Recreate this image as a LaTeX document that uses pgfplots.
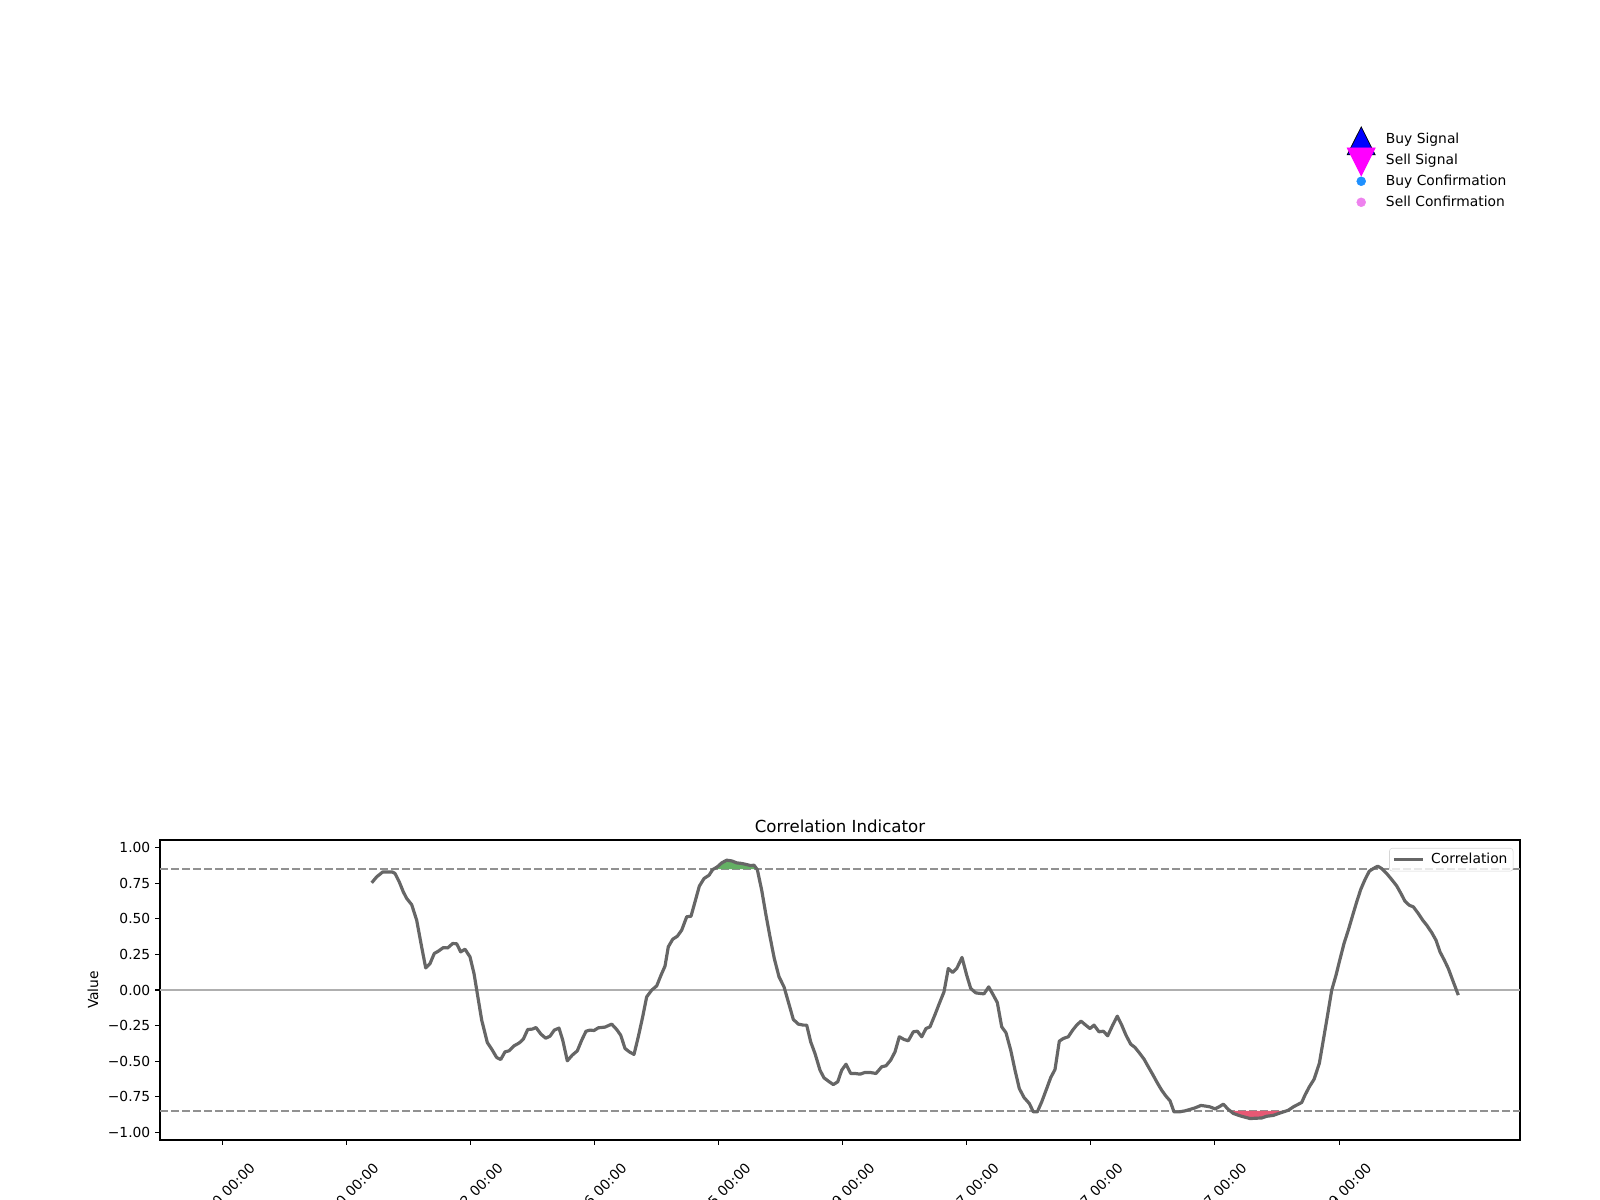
\documentclass[border=0pt]{standalone}
\usepackage{fontspec}
\setmainfont{DejaVu Sans}
\usepackage{pgfplots}
\pgfplotsset{compat=1.18}
\definecolor{corr}{RGB}{102,102,102}
\definecolor{thr}{RGB}{145,145,145}
\definecolor{zer}{RGB}{175,175,175}
\definecolor{posfill}{RGB}{100,176,100}
\definecolor{negfill}{RGB}{231,88,116}
\definecolor{buyc}{RGB}{30,144,255}
\definecolor{sellc}{RGB}{238,130,238}
\definecolor{sigblue}{RGB}{0,0,255}
\definecolor{sigmag}{RGB}{255,0,255}
\definecolor{legframe}{RGB}{214,214,214}
\pgfplotstableread{
x y
371.7 0.754
376.7 0.796
382.7 0.830
392.3 0.830
395.0 0.820
399.3 0.760
403.3 0.690
406.7 0.644
411.7 0.600
416.7 0.490
421.0 0.327
425.7 0.155
430.0 0.186
434.3 0.257
438.3 0.273
443.3 0.298
447.7 0.296
452.7 0.327
456.7 0.325
460.7 0.268
465.0 0.287
470.0 0.233
474.0 0.116
477.3 -0.025
481.7 -0.212
487.3 -0.369
491.7 -0.416
496.7 -0.475
500.7 -0.489
505.0 -0.435
509.0 -0.428
514.0 -0.393
519.3 -0.372
523.3 -0.346
527.7 -0.278
532.3 -0.275
536.0 -0.264
541.0 -0.311
545.7 -0.339
550.0 -0.325
554.3 -0.282
559.0 -0.268
562.7 -0.352
567.3 -0.498
572.3 -0.458
577.3 -0.428
581.7 -0.353
586.0 -0.290
590.0 -0.282
594.0 -0.285
598.3 -0.266
605.0 -0.261
611.7 -0.240
616.7 -0.278
620.7 -0.318
625.0 -0.411
629.3 -0.435
634.0 -0.453
638.3 -0.329
642.7 -0.188
646.7 -0.048
651.7 -0.001
656.7 0.029
661.0 0.104
665.0 0.168
668.3 0.304
672.7 0.357
677.3 0.378
681.7 0.421
686.7 0.515
691.0 0.519
695.0 0.620
699.3 0.730
704.0 0.784
709.0 0.807
712.7 0.847
717.3 0.866
721.7 0.894
726.7 0.913
731.7 0.908
736.7 0.894
741.7 0.890
746.7 0.882
750.7 0.875
754.0 0.878
757.3 0.847
761.7 0.702
766.0 0.526
770.0 0.374
774.3 0.221
779.0 0.093
784.0 0.022
788.3 -0.083
793.3 -0.207
798.3 -0.240
803.3 -0.247
806.7 -0.247
810.7 -0.365
815.0 -0.447
820.0 -0.564
824.0 -0.618
829.3 -0.646
833.3 -0.665
837.7 -0.646
841.7 -0.564
846.0 -0.522
850.7 -0.587
855.0 -0.587
860.0 -0.592
865.0 -0.580
870.0 -0.580
876.0 -0.587
881.7 -0.540
886.0 -0.533
890.7 -0.493
895.0 -0.435
899.3 -0.329
904.0 -0.348
908.3 -0.357
913.3 -0.294
917.3 -0.290
921.7 -0.329
926.0 -0.271
930.0 -0.259
935.0 -0.173
939.3 -0.095
944.0 -0.013
948.3 0.151
952.7 0.123
956.7 0.151
962.0 0.229
966.7 0.104
970.7 0.011
975.7 -0.020
980.0 -0.024
984.0 -0.027
988.7 0.022
993.3 -0.036
997.3 -0.088
1001.7 -0.259
1006.0 -0.301
1010.7 -0.423
1015.0 -0.564
1019.3 -0.693
1024.0 -0.756
1029.3 -0.798
1033.3 -0.857
1037.3 -0.857
1041.7 -0.787
1046.7 -0.693
1050.7 -0.616
1055.0 -0.559
1059.3 -0.360
1063.3 -0.341
1068.3 -0.329
1072.7 -0.282
1076.7 -0.247
1081.0 -0.219
1085.7 -0.247
1090.0 -0.271
1094.0 -0.247
1099.0 -0.294
1103.3 -0.290
1107.7 -0.322
1112.7 -0.247
1117.3 -0.184
1121.7 -0.247
1126.0 -0.318
1130.7 -0.381
1135.0 -0.404
1139.3 -0.442
1144.0 -0.486
1148.3 -0.540
1152.7 -0.594
1157.3 -0.653
1161.7 -0.705
1166.0 -0.747
1170.0 -0.779
1174.0 -0.857
1179.3 -0.857
1185.0 -0.850
1190.0 -0.840
1195.0 -0.829
1201.0 -0.812
1206.0 -0.817
1210.0 -0.822
1215.0 -0.836
1219.0 -0.822
1223.3 -0.803
1228.3 -0.840
1233.3 -0.868
1240.0 -0.885
1250.0 -0.904
1261.7 -0.900
1266.7 -0.888
1273.3 -0.882
1280.0 -0.865
1288.3 -0.846
1293.3 -0.822
1301.7 -0.791
1305.0 -0.739
1309.3 -0.681
1314.0 -0.629
1319.3 -0.517
1323.3 -0.353
1327.3 -0.188
1331.7 -0.001
1336.0 0.104
1339.3 0.198
1344.0 0.327
1348.3 0.421
1352.7 0.526
1356.7 0.620
1360.7 0.707
1365.0 0.777
1369.3 0.836
1373.3 0.854
1377.7 0.871
1381.7 0.854
1386.7 0.819
1391.7 0.777
1396.7 0.732
1401.0 0.678
1405.0 0.624
1409.3 0.596
1413.3 0.585
1418.3 0.538
1422.7 0.491
1426.7 0.456
1431.7 0.404
1436.0 0.350
1440.0 0.268
1444.3 0.210
1448.3 0.151
1453.3 0.057
1458.3 -0.036
}\corrdata
\begin{document}
\begin{tikzpicture}
% upper (hidden) panel carrying the signal legend
\begin{axis}[
  at={(1.6in,4.2in)}, anchor=south west,
  scale only axis, width=13.6in, height=6.36in,
  hide axis, xmin=0, xmax=1, ymin=0, ymax=1,
  legend cell align=left,
  legend image code/.code={\pgfpathrectangle{\pgfpoint{0cm}{-1pt}}{\pgfpoint{0.706cm}{2pt}}\pgfusepath{discard}%
    \draw[#1, overlay] plot coordinates {(0.353cm,0cm)};},
  legend style={at={(axis description cs:0.8728,1.0182)}, anchor=north west,
    draw=none, fill=none, inner sep=0pt, row sep=5.68pt,
    font=\fontsize{10}{12}\selectfont,
    nodes={inner sep=0pt, text height=7.5pt, text depth=2pt},
    /tikz/every odd column/.append style={column sep=7.85pt}},
]
\addlegendimage{only marks, mark=triangle*, mark size=11.7pt, mark options={fill=sigblue, draw=black, line width=0.5pt, yshift=-4.5pt, yscale=1.15}}
\addlegendimage{only marks, mark=triangle*, mark size=11.7pt, mark options={fill=sigmag, draw=sigmag, line width=0.5pt, yshift=2.2pt, rotate=180, yscale=1.15}}
\addlegendimage{only marks, mark=*, mark size=3.2pt, mark options={fill=buyc, draw=buyc}}
\addlegendimage{only marks, mark=*, mark size=3.2pt, mark options={fill=sellc, draw=sellc}}
\legend{Buy Signal, Sell Signal, Buy Confirmation, Sell Confirmation}
\end{axis}
% correlation panel
\begin{axis}[
  at={(1.6in,0.6in)}, anchor=south west,
  scale only axis, width=13.6in, height=3in,
  xmin=160, xmax=1520, ymin=-1.055, ymax=1.055,
  axis line style={line width=0.8pt},
  tick align=outside, tick pos=left,
  major tick length=3.5pt,
  every tick/.style={black, line width=0.8pt},
  xtick={222.6,346.4,470.5,594.3,718.4,842.4,966.6,1090.7,1214.3,1339.2},
  xticklabels={2023-05-10 00:00, 2023-06-20 00:00, 2023-07-12 00:00, 2023-08-26 00:00, 2023-09-15 00:00, 2023-10-09 00:00, 2023-11-17 00:00, 2023-12-27 00:00, 2024-01-17 00:00, 2024-02-09 00:00},
  xticklabel style={xshift=0.26in, yshift=-0.105in, rotate=45, anchor=north east},
  ytick={-1,-0.75,-0.5,-0.25,0,0.25,0.5,0.75,1},
  yticklabels={−1.00,−0.75,−0.50,−0.25,0.00,0.25,0.50,0.75,1.00},
  tick label style={font=\fontsize{10}{12}\selectfont},
  ylabel={Value},
  label style={font=\fontsize{10}{12}\selectfont},
  title={Correlation Indicator},
  title style={font=\fontsize{12}{14}\selectfont, yshift=-0.055in},
  legend style={at={(1,1)}, anchor=north east, xshift=-0.067in, yshift=-0.08in,
    draw=legframe, rounded corners=2pt, fill=white, fill opacity=0.8, text opacity=1,
    font=\fontsize{10}{12}\selectfont, inner xsep=2pt, inner ysep=2pt,
    nodes={inner xsep=2pt, inner ysep=1.7pt},
    /tikz/every odd column/.append style={column sep=2.5pt}},
  legend image code/.code={\draw[#1] (0cm,0cm) -- (0.75cm,0cm);},
]
\addplot[thr, line width=1.5pt, dash pattern=on 5.55pt off 2.4pt, forget plot] coordinates {(160,0.85) (1520,0.85)};
\addplot[thr, line width=1.5pt, dash pattern=on 5.55pt off 2.4pt, forget plot] coordinates {(160,-0.85) (1520,-0.85)};
\addplot[zer, line width=1.5pt, forget plot] coordinates {(160,0) (1520,0)};
\addplot[fill=posfill, draw=none, forget plot] coordinates {(712.9,0.85) (717.3,0.866) (721.7,0.894) (726.7,0.913) (731.7,0.908) (736.7,0.894) (741.7,0.890) (746.7,0.882) (750.7,0.875) (754.0,0.878) (757.0,0.85)} -- cycle;
\addplot[fill=negfill, draw=none, forget plot] coordinates {(1229.5,-0.85) (1233.3,-0.868) (1240.0,-0.885) (1250.0,-0.904) (1261.7,-0.900) (1266.7,-0.888) (1273.3,-0.882) (1280.0,-0.865) (1287.0,-0.85)} -- cycle;
\addplot[corr, line width=2.3pt, line join=round] table[x=x, y=y] {\corrdata};
\addlegendentry{Correlation}
\end{axis}
\pgfresetboundingbox
\path[use as bounding box] (0,0) rectangle (16in,12in);
\end{tikzpicture}
\end{document}
